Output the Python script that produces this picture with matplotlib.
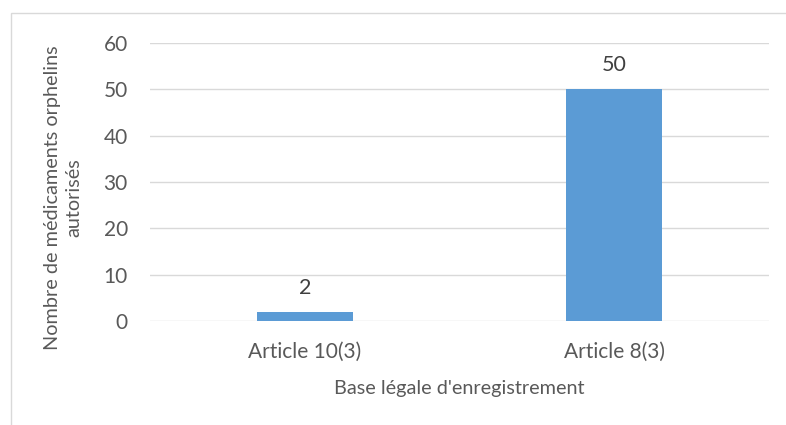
import matplotlib
matplotlib.use("Agg")
import matplotlib.pyplot as plt
from matplotlib.patches import Rectangle

categories = ["Article 10(3)", "Article 8(3)"]
values = [2, 50]
yticks = [0, 10, 20, 30, 40, 50, 60]

plt.rcParams['font.family'] = ['Lato', 'DejaVu Sans']

W, H = 786, 425
fig = plt.figure(figsize=(W / 100, H / 100), dpi=100)
ax = fig.add_axes([150 / W, 1 - 321 / H, 619 / W, (321 - 43) / H])

x = list(range(len(categories)))
bars = ax.bar(x, values, width=0.31, color="#5b9bd5", zorder=3)
for xi, v in zip(x, values):
    ax.annotate(str(v), (xi, v), xytext=(0, 10), textcoords="offset points",
                ha="center", va="bottom", fontsize=15.5, color="#404040")

ax.set_xlim(-0.5, len(categories) - 0.5)
ax.set_ylim(0, 60)
ax.set_yticks(yticks)
ax.set_xticks(x)
ax.set_xticklabels(categories)
ax.tick_params(axis="both", length=0, labelsize=15, colors="#595959")
ax.tick_params(axis="y", pad=16)
ax.tick_params(axis="x", pad=15)
ax.grid(axis="y", color="#d9d9d9", linewidth=1, zorder=0)
for s in ax.spines.values():
    s.set_visible(False)

ax.set_xlabel("Base légale d'enregistrement", fontsize=14.3, color="#595959", labelpad=13)
ax.set_ylabel("Nombre de médicaments orphelins\nautorisés", fontsize=14.3, color="#595959",
              labelpad=15, linespacing=1.35)
ax.yaxis.label.set_y(0.445)

fig.patches.append(Rectangle((10.5 / W, -0.1), 1.2, (1 - 13.5 / H) + 0.1,
                             transform=fig.transFigure, fill=False,
                             edgecolor="#d9d9d9", linewidth=1))

fig.savefig("out.png", dpi=100)
